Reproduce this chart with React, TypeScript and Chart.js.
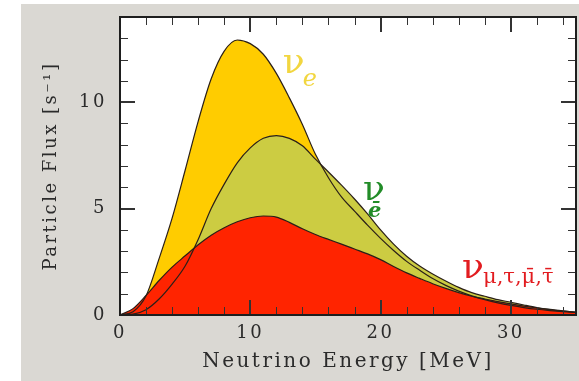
import React, { useEffect, useRef } from 'react';
import { Chart, registerables } from 'chart.js';

Chart.register(...registerables);

// ---- data ----
const energy = [0, 1, 2, 3, 4, 5, 6, 7, 8, 9, 10, 11, 12, 13, 14, 15, 16, 17, 18, 19, 20, 21, 22, 23, 24, 25, 26, 27, 28, 29, 30, 31, 32, 33, 34, 35];

// nu_e (yellow)
const fluxNuE = [0, 0.15, 0.9, 2.65, 4.55, 6.8, 9.1, 11.1, 12.4, 12.92, 12.75, 12.25, 11.35, 10.2, 8.95, 7.55, 6.45, 5.55, 4.88, 4.22, 3.6, 3.03, 2.52, 2.1, 1.71, 1.39, 1.12, 0.9, 0.72, 0.57, 0.45, 0.35, 0.27, 0.21, 0.16, 0.12];

// anti nu_e (olive)
const fluxAntiNuE = [0, 0.04, 0.25, 0.75, 1.45, 2.3, 3.55, 5.0, 6.15, 7.15, 7.85, 8.3, 8.43, 8.3, 7.95, 7.32, 6.72, 6.1, 5.45, 4.75, 4.0, 3.33, 2.76, 2.3, 1.93, 1.6, 1.3, 1.05, 0.88, 0.72, 0.6, 0.47, 0.35, 0.26, 0.19, 0.13];

// nu_mu,tau + anti (red)
const fluxNuX = [0, 0.3, 0.92, 1.62, 2.25, 2.78, 3.3, 3.75, 4.1, 4.38, 4.57, 4.65, 4.6, 4.35, 4.05, 3.78, 3.55, 3.33, 3.1, 2.87, 2.6, 2.28, 1.98, 1.72, 1.47, 1.25, 1.05, 0.88, 0.75, 0.63, 0.52, 0.42, 0.33, 0.25, 0.18, 0.13];

const xMajorStep = 10;
const xMinorStep = 2;
const yMajorStep = 5;
const yMinorStep = 1;
const xRange = [0, 35];
const yRange = [0, 14];

const seriesNames = ['ν μ,τ,μ̄,τ̄', 'ν ē', 'ν e'];

const FONT = '"DejaVu Serif", "Liberation Serif", serif';
const RED = 'rgb(255, 36, 0)';
const OLIVE = 'rgb(204, 204, 66)';
const YELLOW = 'rgb(255, 204, 0)';
const OUTLINE = '#2a1f18';
const AXIS = '#2b2b2b';

function drawFrameAndTicks(chart: any) {
  const ctx: CanvasRenderingContext2D = chart.ctx;
  const a = chart.chartArea;
  const xs = chart.scales.x;
  const ys = chart.scales.y;
  ctx.save();
  ctx.fillStyle = '#333333';
  const nx = Math.round((xRange[1] - xRange[0]) / xMinorStep);
  for (let i = 0; i <= nx; i++) {
    const v = xRange[0] + i * xMinorStep;
    const px = Math.round(xs.getPixelForValue(v));
    const major = v % xMajorStep === 0;
    const len = major ? 15 : 8;
    const w = major ? 2 : 1;
    ctx.fillRect(px - (w > 1 ? 1 : 0), a.bottom - len, w, len);
    ctx.fillRect(px - (w > 1 ? 1 : 0), a.top, w, len);
  }
  const ny = Math.round((yRange[1] - yRange[0]) / yMinorStep);
  for (let i = 0; i <= ny; i++) {
    const v = yRange[0] + i * yMinorStep;
    const py = Math.round(ys.getPixelForValue(v));
    const major = v % yMajorStep === 0;
    const len = major ? 15 : 8;
    const h = major ? 2 : 1;
    ctx.fillRect(a.left, py - (h > 1 ? 1 : 0), len, h);
    ctx.fillRect(a.right - len, py - (h > 1 ? 1 : 0), len, h);
  }
  ctx.fillStyle = '#1e1e1e';
  const L = Math.round(a.left), R = Math.round(a.right), T = Math.round(a.top), B = Math.round(a.bottom);
  ctx.fillRect(L - 1, T - 1, R - L + 2, 2);
  ctx.fillRect(L - 1, B - 1, R - L + 2, 2);
  ctx.fillRect(L - 1, T - 1, 2, B - T + 2);
  ctx.fillRect(R - 1, T - 1, 2, B - T + 2);
  ctx.restore();
}

const framePlugin = {
  id: 'framePlugin',
  beforeDraw(chart: any) {
    const { ctx, chartArea: a } = chart;
    ctx.save();
    ctx.fillStyle = '#ffffff';
    ctx.fillRect(a.left, a.top, a.right - a.left, a.bottom - a.top);
    ctx.restore();
    ctx.letterSpacing = '2.5px';
  },
  afterDraw(chart: any) {
    drawFrameAndTicks(chart);
    const { ctx, scales } = chart;
    const xs = scales.x;
    const ys = scales.y;
    ctx.save();
    ctx.letterSpacing = '0px';
    ctx.textBaseline = 'alphabetic';
    ctx.textAlign = 'left';

    // nu_e
    let px = xs.getPixelForValue(12.5);
    let py = ys.getPixelForValue(11.37);
    ctx.fillStyle = 'rgb(242, 214, 64)';
    ctx.font = `36px ${FONT}`;
    ctx.fillText('ν', px, py);
    ctx.font = `italic 24px ${FONT}`;
    ctx.fillText('e', px + 20, py + 13);

    // anti nu_e
    px = xs.getPixelForValue(18.65);
    py = ys.getPixelForValue(5.4);
    ctx.fillStyle = 'rgb(34, 140, 40)';
    ctx.font = `36px ${FONT}`;
    ctx.fillText('ν', px, py);
    ctx.font = `italic bold 21px ${FONT}`;
    ctx.fillText('ē', px + 5, py + 17);

    // nu_mu,tau
    px = xs.getPixelForValue(26.25);
    py = ys.getPixelForValue(1.74);
    ctx.fillStyle = 'rgb(226, 28, 32)';
    ctx.font = `36px ${FONT}`;
    ctx.fillText('ν', px, py);
    ctx.font = `21px ${FONT}`;
    ctx.fillText('μ,τ,μ̄,τ̄', px + 21, py + 5);
    ctx.restore();
  },
};

export default function App() {
  const ref = useRef<HTMLCanvasElement | null>(null);

  useEffect(() => {
    document.body.style.margin = '0';
    const canvas = ref.current;
    if (!canvas) return;
    const toPoints = (vals: number[]) => energy.map((e, i) => ({ x: e, y: vals[i] }));
    const common = {
      fill: 'origin',
      borderColor: OUTLINE,
      borderWidth: 1.2,
      pointRadius: 0,
      pointHoverRadius: 0,
      cubicInterpolationMode: 'monotone' as const,
    };
    const chart = new Chart(canvas, {
      type: 'line',
      data: {
        datasets: [
          { ...common, label: seriesNames[0], data: toPoints(fluxNuX), backgroundColor: RED },
          { ...common, label: seriesNames[1], data: toPoints(fluxAntiNuE), backgroundColor: OLIVE },
          { ...common, label: seriesNames[2], data: toPoints(fluxNuE), backgroundColor: YELLOW },
        ],
      },
      options: {
        animation: false,
        responsive: false,
        devicePixelRatio: 1,
        layout: { padding: { top: 17, right: 3, left: 0, bottom: 0 } },
        plugins: {
          legend: { display: false },
          tooltip: { enabled: false },
          filler: { drawTime: 'beforeDatasetsDraw' },
        },
        scales: {
          x: {
            type: 'linear',
            min: xRange[0],
            max: xRange[1],
            afterFit: (s: any) => {
              s.height = 66;
              s.paddingLeft = 0;
              s.paddingRight = 0;
            },
            grid: { display: false, drawTicks: false },
            border: { display: false },
            ticks: {
              stepSize: xMajorStep,
              includeBounds: false,
              padding: 8,
              maxRotation: 0,
              autoSkip: false,
              color: AXIS,
              font: { family: FONT, size: 18 },
            },
            title: {
              display: true,
              text: 'Neutrino Energy [MeV]',
              color: AXIS,
              font: { family: FONT, size: 20 },
              padding: { top: 0, bottom: 7 },
            },
          },
          y: {
            type: 'linear',
            min: yRange[0],
            max: yRange[1],
            afterFit: (s: any) => {
              s.width = 120;
              s.paddingTop = 0;
              s.paddingBottom = 0;
            },
            grid: { display: false, drawTicks: false },
            border: { display: false },
            ticks: {
              stepSize: yMajorStep,
              includeBounds: false,
              padding: 13,
              color: AXIS,
              font: { family: FONT, size: 18 },
            },
            title: {
              display: true,
              text: 'Particle Flux [s⁻¹]',
              color: AXIS,
              font: { family: FONT, size: 18 },
              padding: { top: 41, bottom: 0 },
            },
          },
        },
      },
      plugins: [framePlugin],
    } as any);
    return () => chart.destroy();
  }, []);

  return (
    <div style={{ position: 'fixed', left: 0, top: 0, width: 579, height: 381, background: '#ffffff' }}>
      <div style={{ position: 'absolute', left: 21, top: 4, right: 0, bottom: 0, background: 'rgb(218, 216, 211)' }} />
      <canvas ref={ref} width={579} height={381} style={{ position: 'absolute', left: 0, top: 0 }} />
    </div>
  );
}
